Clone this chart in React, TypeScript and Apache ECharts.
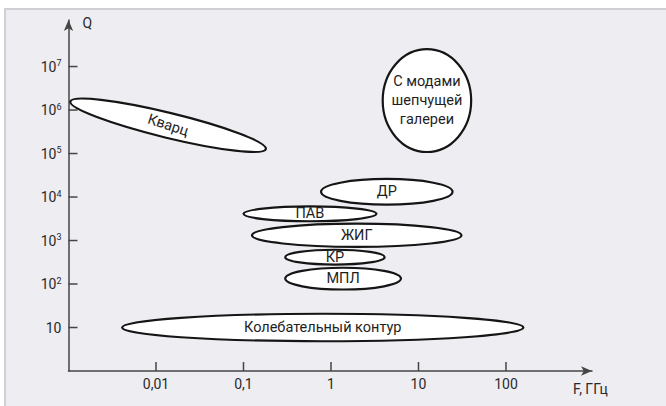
import React, { useEffect, useRef } from "react";
import * as echarts from "echarts";

// Regions: left tip (fFrom, qFrom), right tip (fTo, qTo), vertical half-spread factor qBand
const regionNames = [
  "Кварц",
  "С модами\nшепчущей\nгалереи",
  "ДР",
  "ПАВ",
  "ЖИГ",
  "КР",
  "МПЛ",
  "Колебательный контур",
];
const fFrom = [0.00105, 3.9, 0.77, 0.1, 0.125, 0.3, 0.3, 0.0041];
const fTo = [0.18, 40, 24.5, 3.3, 31, 4.1, 6.3, 158];
const qFrom = [1.57e6, 1.65e6, 1.32e4, 4100, 1320, 414, 133, 10];
const qTo = [1.27e5, 1.65e6, 1.32e4, 4100, 1320, 414, 133, 10];
const qBand = [1.98, 15.2, 1.97, 1.48, 1.85, 1.48, 1.78, 2.07];

const xTickValues = [0.01, 0.1, 1, 10, 100];
const xTickLabels = ["0,01", "0,1", "1", "10", "100"];
const yTickValues = [10, 100, 1e3, 1e4, 1e5, 1e6, 1e7];

const FONT = "Roboto, 'Liberation Sans', sans-serif";
const lg = (v: number) => Math.log10(v);

export default function App() {
  const ref = useRef<HTMLDivElement>(null);
  useEffect(() => {
    if (!ref.current) return;
    const chart = echarts.init(ref.current, null, { renderer: "svg" });
    const xVals = xTickValues.map(lg);
    const yVals = yTickValues.map(lg);
    const X_MIN = -3;
    const Y_MIN = 0;
    const data = regionNames.map((n, i) => ({
      name: n,
      value: [lg(fFrom[i]), lg(qFrom[i]), lg(fTo[i]), lg(qTo[i]), lg(qBand[i])],
    }));
    const tickData = [
      ...xVals.map((v) => ({ value: [v, Y_MIN, 0] })),
      ...yVals.map((v) => ({ value: [X_MIN, v, 1] })),
    ];
    const axisColor = "#454545";
    const TICK_LEN = 9;
    chart.setOption({
      animation: false,
      backgroundColor: "#ffffff",
      graphic: [
        {
          type: "rect",
          z: -10,
          silent: true,
          shape: { x: 5, y: 9, width: 680, height: 420 },
          style: { fill: "#eeedf2", stroke: "#cfcfd4", lineWidth: 2 },
        },
      ],
      grid: { left: 68.5, right: 74, top: 20, bottom: 35, outerBoundsMode: "none" },
      xAxis: {
        type: "value",
        position: "bottom",
        min: X_MIN,
        max: 2.983,
        splitLine: { show: false },
        axisLine: {
          show: true,
          onZero: false,
          symbol: ["none", "arrow"],
          symbolSize: [7, 11],
          lineStyle: { color: axisColor, width: 1.5 },
        },
        axisTick: { show: false },
        axisLabel: {
          customValues: xVals,
          margin: 6,
          fontSize: 14,
          color: "#2a2a2a",
          fontFamily: FONT,
          formatter: (v: number) => {
            const idx = xVals.findIndex((x) => Math.abs(x - v) < 1e-6);
            return idx >= 0 ? xTickLabels[idx] : "";
          },
        },
        name: "F, ГГц",
        nameLocation: "end",
        nameGap: -19,
        nameTextStyle: {
          align: "left",
          verticalAlign: "top",
          padding: [11, 0, 0, 0],
          fontSize: 14,
          color: "#2a2a2a",
          fontFamily: FONT,
        },
      },
      yAxis: {
        type: "value",
        position: "left",
        min: Y_MIN,
        max: 8.07,
        splitLine: { show: false },
        axisLine: {
          show: true,
          onZero: false,
          symbol: ["none", "arrow"],
          symbolSize: [7, 11],
          lineStyle: { color: axisColor, width: 1.5 },
        },
        axisTick: { show: false },
        axisLabel: {
          customValues: yVals,
          margin: 7,
          color: "#2a2a2a",
          fontFamily: FONT,
          formatter: (v: number) => {
            const n = Math.round(v);
            return n === 1 ? "{b|10}" : `{b|10}{s|${n}}`;
          },
          rich: {
            b: { fontSize: 14, lineHeight: 16, color: "#2a2a2a", fontFamily: FONT },
            s: { fontSize: 9, lineHeight: 9, verticalAlign: "top", color: "#2a2a2a", fontFamily: FONT },
          },
        },
        name: "Q",
        nameLocation: "end",
        nameGap: -3,
        nameTextStyle: {
          align: "left",
          verticalAlign: "middle",
          padding: [0, 0, 0, 14],
          fontSize: 14,
          color: "#2a2a2a",
          fontFamily: FONT,
        },
      },
      series: [
        {
          type: "custom",
          clip: false,
          silent: true,
          z: 1,
          data: tickData,
          renderItem: (params: any, api: any) => {
            const p = api.coord([api.value(0), api.value(1)]);
            const vertical = api.value(2) === 0;
            return {
              type: "line",
              shape: vertical
                ? { x1: p[0], y1: p[1], x2: p[0], y2: p[1] - TICK_LEN }
                : { x1: p[0], y1: p[1], x2: p[0] + TICK_LEN, y2: p[1] },
              style: { stroke: axisColor, lineWidth: 1.5 },
            };
          },
        },
        {
          type: "custom",
          clip: false,
          z: 2,
          data,
          renderItem: (params: any, api: any) => {
            const f1 = api.value(0);
            const q1 = api.value(1);
            const f2 = api.value(2);
            const q2 = api.value(3);
            const band = api.value(4);
            const p1 = api.coord([f1, q1]);
            const p2 = api.coord([f2, q2]);
            const cx = (p1[0] + p2[0]) / 2;
            const cy = (p1[1] + p2[1]) / 2;
            const pTop = api.coord([(f1 + f2) / 2, (q1 + q2) / 2 + band]);
            const vh = Math.abs(cy - pTop[1]);
            const dx = p2[0] - p1[0];
            const dy = p2[1] - p1[1];
            const a = Math.hypot(dx, dy) / 2;
            const th = Math.atan2(dy, dx);
            const b = vh * Math.cos(th);
            const name = regionNames[params.dataIndex];
            return {
              type: "group",
              x: cx,
              y: cy,
              rotation: -th,
              children: [
                {
                  type: "ellipse",
                  shape: { cx: 0, cy: 0, rx: a, ry: b },
                  style: { fill: "#ffffff", stroke: "#151515", lineWidth: 2.2 },
                },
                {
                  type: "text",
                  x: 0,
                  y: 0,
                  rotation: th !== 0 ? -0.08 : 0,
                  style: {
                    text: name,
                    align: "center",
                    verticalAlign: "middle",
                    fontSize: 14.5,
                    lineHeight: 19,
                    fill: "#1e1e1e",
                    fontFamily: FONT,
                  },
                },
              ],
            };
          },
        },
      ],
    });
    return () => chart.dispose();
  }, []);
  return (
    <div
      ref={ref}
      style={{ position: "fixed", left: 0, top: 0, width: 666, height: 406 }}
    />
  );
}
